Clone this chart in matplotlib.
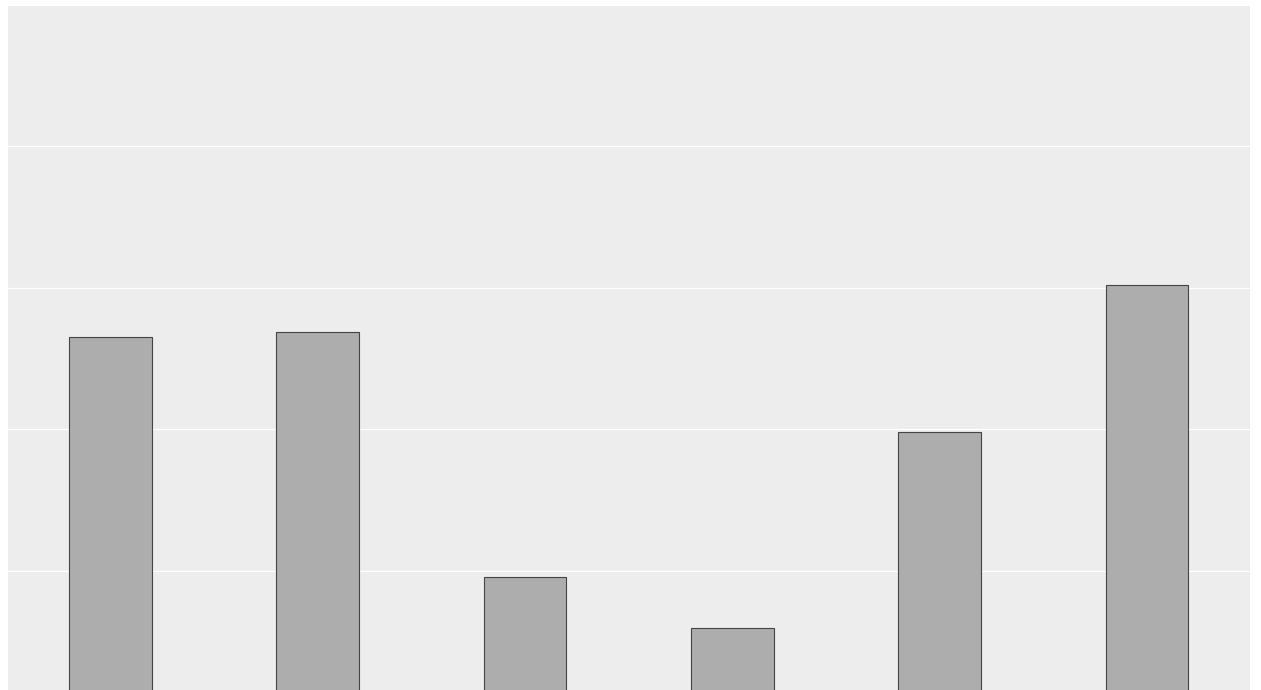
import matplotlib
matplotlib.use('Agg')
import matplotlib.pyplot as plt

categories = ['A', 'B', 'C', 'D', 'E', 'F']
values = [2.65, 2.69, 0.96, 0.60, 1.98, 3.02]
grid_ticks = [1, 2, 3, 4]

fig = plt.figure(figsize=(12.61, 6.90), dpi=100)
ax = fig.add_axes([8 / 1261, 0, 1242 / 1261, 684 / 690])
ax.set_facecolor('#ededed')

x = range(len(categories))
ax.bar(x, values, width=0.4, color='#adadad', edgecolor='#444444', linewidth=0.8, zorder=3)

ax.set_xlim(-0.494, 5.497)
ax.set_ylim(0.16, 4.988)
ax.set_yticks(grid_ticks)
ax.set_xticks([])
ax.grid(axis='y', color='white', linewidth=0.9, zorder=0)
ax.tick_params(left=False, labelleft=False)
for s in ax.spines.values():
    s.set_visible(False)

fig.savefig('out.png', dpi=100)
